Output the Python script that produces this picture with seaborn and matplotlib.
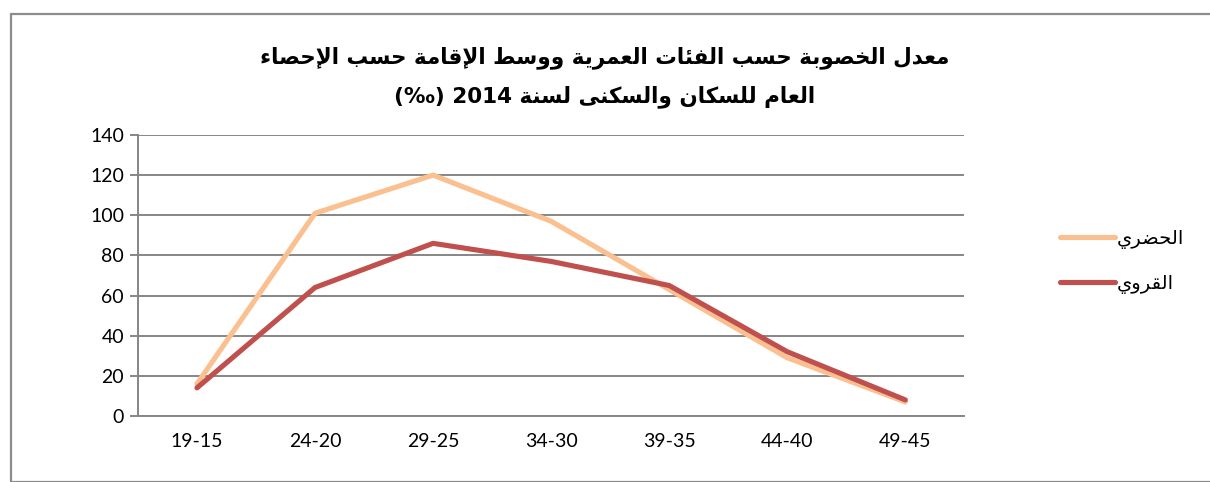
import matplotlib
matplotlib.use('Agg')
import matplotlib.pyplot as plt
from matplotlib.patches import Rectangle
from matplotlib.ticker import FixedLocator
import seaborn as sns
import pandas as pd

age_groups = ['19-15', '24-20', '29-25', '34-30', '39-35', '44-40', '49-45']
urban = [16, 101, 120, 97, 63, 29, 7]
rural = [14, 64, 86, 77, 65, 32, 8]
urban_label = 'الحضري'
rural_label = 'القروي'
title_line1 = 'معدل الخصوبة حسب الفئات العمرية ووسط الإقامة حسب الإحصاء'
title_line2 = 'العام للسكان والسكنى لسنة'
title_suffix = '(‰) 2014'

# minimal arabic shaping (matplotlib has no bidi / joining support)
FORMS4 = {'ئ': 0xFE89, 'ب': 0xFE8F, 'ت': 0xFE95, 'ث': 0xFE99, 'ج': 0xFE9D,
          'ح': 0xFEA1, 'خ': 0xFEA5, 'س': 0xFEB1, 'ش': 0xFEB5, 'ص': 0xFEB9,
          'ض': 0xFEBD, 'ط': 0xFEC1, 'ظ': 0xFEC5, 'ع': 0xFEC9, 'غ': 0xFECD,
          'ف': 0xFED1, 'ق': 0xFED5, 'ك': 0xFED9, 'ل': 0xFEDD, 'م': 0xFEE1,
          'ن': 0xFEE5, 'ه': 0xFEE9, 'ي': 0xFEF1}
FORMS2 = {'آ': 0xFE81, 'أ': 0xFE83, 'إ': 0xFE87, 'ا': 0xFE8D, 'ة': 0xFE93,
          'د': 0xFEA9, 'ذ': 0xFEAB, 'ر': 0xFEAD, 'ز': 0xFEAF, 'و': 0xFEED,
          'ى': 0xFEEF}
LAMALEF = {'آ': 0xFEF5, 'أ': 0xFEF7, 'إ': 0xFEF9, 'ا': 0xFEFB}


def shape_word(w):
    chars = []
    i = 0
    while i < len(w):
        if w[i] == 'ل' and i + 1 < len(w) and w[i + 1] in LAMALEF:
            chars.append(('LA', LAMALEF[w[i + 1]]))
            i += 2
        else:
            chars.append((w[i], None))
            i += 1
    out = []
    for k, (c, la) in enumerate(chars):
        prev = chars[k - 1][0] if k > 0 else None
        nxt = chars[k + 1][0] if k + 1 < len(chars) else None
        jp = prev in FORMS4
        if c == 'LA':
            out.append(chr(la + (1 if jp else 0)))
        elif c in FORMS4:
            jn = nxt in FORMS4 or nxt in FORMS2 or nxt == 'LA'
            out.append(chr(FORMS4[c] + (3 if jp and jn else 2 if jn else 1 if jp else 0)))
        elif c in FORMS2:
            out.append(chr(FORMS2[c] + (1 if jp else 0)))
        elif c == 'ء':
            out.append(chr(0xFE80))
        else:
            out.append(c)
    return ''.join(out)[::-1]


def rtl(s):
    return ' '.join(shape_word(w) for w in s.split(' ')[::-1])


df = pd.DataFrame({
    'age': age_groups * 2,
    'rate': urban + rural,
    'area': [rtl(urban_label)] * 7 + [rtl(rural_label)] * 7,
})

sns.set_style('white')
plt.rcParams['font.family'] = ['DejaVu Sans']
plt.rcParams['text.color'] = 'black'
plt.rcParams['xtick.color'] = 'black'
plt.rcParams['ytick.color'] = 'black'

fig = plt.figure(figsize=(12.1, 4.82), dpi=100)
ax = fig.add_axes([0.114, 0.137, 0.683, 0.583])

sns.lineplot(data=df, x='age', y='rate', hue='area',
             palette=['#FAC090', '#C0504D'], linewidth=3.7, sort=False,
             solid_capstyle='round', solid_joinstyle='round', ax=ax)

ax.set_xlim(-0.5, 6.5)
ax.set_ylim(0, 140)
ax.set_yticks(range(0, 141, 20))
ax.yaxis.grid(True, color='#868686', linewidth=1.4)
ax.xaxis.grid(False)
ax.set_xlabel('')
ax.set_ylabel('')
ax.xaxis.set_minor_locator(FixedLocator([i - 0.5 for i in range(8)]))
ax.tick_params(axis='x', which='major', length=0, pad=12, labelsize=14)
ax.tick_params(axis='x', which='minor', length=6, color='#868686', width=1.4, direction='out')
ax.tick_params(axis='y', length=6, color='#868686', labelcolor='black', width=1.4,
               labelsize=14, pad=4, left=True)
for lab in ax.get_xticklabels() + ax.get_yticklabels():
    lab.set_family(['Lato', 'DejaVu Sans'])
for s in ['top', 'right']:
    ax.spines[s].set_visible(False)
for s in ['left', 'bottom']:
    ax.spines[s].set_color('#868686')
    ax.spines[s].set_linewidth(1.4)

handles, labels = ax.get_legend_handles_labels()
for h in handles:
    h.set_solid_capstyle('round')
ax.legend(handles, labels, loc='center left', bbox_to_anchor=(1.095, 0.55),
          frameon=False, fontsize=14, handlelength=2.8, labelspacing=1.25,
          handletextpad=0.1)

fig.text(0.5, 0.88, rtl(title_line1), ha='center', va='center',
         fontsize=15.5, fontweight='bold')
fig.text(0.5, 0.80, title_suffix + ' ' + rtl(title_line2), ha='center',
         va='center', fontsize=15.5, fontweight='bold')

fig.patches.append(Rectangle((0.009, 0.0), 0.995, 0.97, transform=fig.transFigure,
                             fill=False, edgecolor='#8c8c8c', linewidth=1.6))

fig.savefig('out.png', dpi=100)
